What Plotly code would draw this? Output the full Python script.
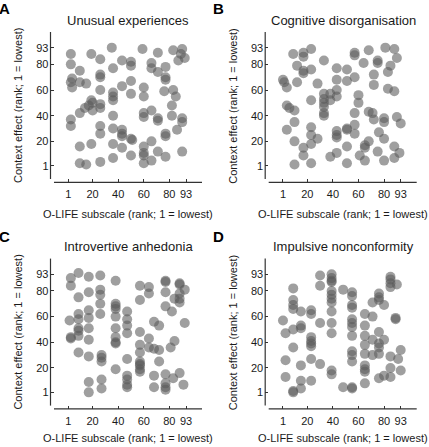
import plotly.graph_objects as go

W, H = 429, 447

tick_vals = [1, 20, 40, 60, 80, 93]
tick_text = ["1", "20", "40", "60", "80", "93"]

panel_titles = ["Unusual experiences", "Cognitive disorganisation",
                "Introvertive anhedonia", "Impulsive nonconformity"]
panel_letters = ["A", "B", "C", "D"]
x_title = "O-LIFE subscale (rank; 1 = lowest)"
y_title = "Context effect (rank; 1 = lowest)"

# Panel A: Unusual experiences
ue_x = [35, 59, 3, 19, 26, 43, 50, 50, 71, 83, 90, 89, 92, 87, 3, 10, 4, 3, 4, 10, 15, 26, 26, 36,
        26, 36, 36, 36, 43, 50, 50, 60, 60, 66, 66, 71, 77, 77, 77, 76, 83, 85, 82, 82, 19, 17, 14,
        10, 20, 20, 26, 26, 3, 3, 26, 26, 36, 36, 43, 43, 43, 43, 50, 51, 50, 36, 36, 26, 19, 10,
        10, 15, 60, 60, 66, 71, 71, 77, 77, 90, 90, 86, 90, 60, 60, 60, 60, 66, 66, 71, 77]
ue_y = [93, 92, 88, 88, 84, 83, 82, 79, 89, 91, 92, 88, 85, 83, 80, 75, 69, 66, 62, 66, 65, 72, 70, 77,
        60, 58, 55, 52, 63, 67, 57, 62, 55, 81, 77, 74, 78, 70, 68, 59, 60, 55, 48, 40, 52, 48, 46,
        42, 50, 44, 49, 46, 37, 32, 32, 26, 40, 30, 29, 26, 24, 15, 22, 21, 9, 18, 7, 4, 18, 16,
        3, 2, 42, 39, 44, 38, 36, 26, 24, 38, 35, 29, 12, 16, 11, 9, 3, 20, 5, 12, 8]

# Panel B: Cognitive disorganisation
cd_x = [9, 17, 17, 23, 12, 17, 17, 23, 12, 1, 2, 4, 28, 23, 33, 43, 43, 43, 43, 51, 51, 57, 57, 57,
        68, 64, 75, 75, 81, 88, 90, 85, 83, 72, 72, 83, 88, 60, 60, 57, 57, 33, 33, 33, 33, 33, 33,
        38, 38, 4, 6, 10, 10, 4, 10, 23, 23, 28, 23, 17, 17, 10, 23, 38, 43, 43, 43, 43, 51, 51, 51,
        51, 57, 61, 65, 65, 65, 68, 68, 71, 72, 80, 80, 76, 80, 88, 92, 88, 80, 75, 90, 93]
cd_y = [88, 89, 86, 92, 79, 75, 73, 76, 66, 68, 66, 62, 65, 52, 83, 77, 68, 60, 55, 76, 67, 70, 89, 87,
        91, 81, 83, 81, 93, 92, 85, 79, 74, 72, 64, 61, 59, 56, 50, 42, 33, 57, 53, 50, 47, 42, 40,
        57, 52, 48, 46, 44, 35, 29, 20, 31, 25, 22, 18, 15, 9, 2, 3, 8, 11, 28, 25, 23, 30, 29, 16,
        3, 26, 9, 5, 17, 15, 20, 43, 42, 37, 38, 35, 27, 22, 16, 11, 7, 5, 12, 39, 34]

# Panel C: Introvertive anhedonia
ia_x = [3, 3, 9, 17, 26, 38, 9, 17, 26, 26, 26, 26, 17, 17, 17, 17, 9, 9, 9, 9, 9, 2, 3, 3, 9, 17,
        27, 27, 27, 17, 17, 27, 27, 38, 38, 38, 38, 38, 38, 38, 38, 38, 47, 47, 47, 47, 47, 47, 47,
        47, 47, 57, 57, 57, 57, 57, 57, 57, 57, 57, 57, 64, 64, 64, 64, 68, 68, 72, 72, 72, 68, 68,
        77, 77, 77, 77, 82, 84, 88, 88, 88, 88, 88, 92, 92, 84, 81, 77, 77, 77, 77, 83, 88, 91]
ia_y = [90, 84, 94, 91, 92, 88, 75, 79, 81, 77, 70, 62, 65, 59, 51, 42, 62, 58, 51, 49, 45, 57, 44, 43,
        32, 29, 30, 28, 25, 9, 1, 11, 4, 70, 68, 66, 60, 51, 44, 40, 39, 19, 64, 58, 53, 47, 27, 14,
        11, 7, 5, 84, 73, 48, 38, 32, 25, 23, 22, 19, 17, 83, 78, 43, 36, 35, 56, 53, 34, 25, 14, 5,
        88, 87, 79, 68, 64, 74, 74, 86, 85, 78, 71, 81, 55, 41, 36, 15, 8, 5, 3, 12, 16, 7]

# Panel D: Impulsive nonconformity
in_x = [1, 3, 3, 3, 9, 9, 9, 9, 9, 9, 9, 9, 15, 15, 15, 15, 15, 15, 23, 23, 23, 23, 23, 23, 23, 23,
        30, 30, 30, 30, 39, 39, 39, 39, 39, 39, 39, 39, 39, 39, 39, 39, 39, 48, 48, 55, 55, 55, 55,
        55, 55, 55, 55, 55, 55, 55, 55, 55, 65, 65, 65, 65, 65, 65, 65, 65, 65, 71, 71, 71, 71, 76,
        76, 76, 76, 76, 76, 76, 76, 80, 80, 80, 85, 85, 85, 85, 85, 90, 89, 89, 85, 85, 91, 93, 93]
in_y = [57, 47, 26, 13, 82, 73, 69, 66, 50, 36, 2, 1, 64, 53, 51, 22, 10, 4, 65, 62, 44, 41, 39, 37,
        27, 10, 92, 84, 55, 23, 93, 90, 88, 87, 80, 77, 74, 71, 64, 55, 47, 18, 15, 81, 5, 79, 76,
        69, 67, 58, 55, 52, 45, 33, 30, 25, 5, 4, 62, 53, 45, 38, 31, 22, 19, 17, 8, 60, 42, 30, 71,
        78, 75, 73, 48, 39, 36, 31, 12, 69, 42, 14, 13, 91, 89, 86, 83, 85, 59, 58, 29, 20, 27, 34, 18]

xs = [ue_x, cd_x, ia_x, in_x]
ys = [ue_y, cd_y, ia_y, in_y]

# layout geometry (pixels)
x_off = [0, 214.7, 0, 214.7]
y_off = [0, 0, 226.6, 226.6]
plot_l, plot_r, plot_t, plot_b = 50.5, 202.0, 32.0, 182.3
x_range = [-12.9, 105.5]
y_range = [-11.9, 105.2]

FONT = "Liberation Sans, Arial, sans-serif"
TXT = "#1a1a1a"
LINE = "#333333"

fig = go.Figure()
annotations = []
shapes = []
layout_axes = {}
for i in range(4):
    sfx = "" if i == 0 else str(i + 1)
    fig.add_trace(go.Scatter(
        x=xs[i], y=ys[i], mode="markers",
        marker=dict(size=10, color="rgba(90,90,90,0.58)", line=dict(width=0)),
        xaxis="x" + sfx, yaxis="y" + sfx, showlegend=False, hoverinfo="x+y"))
    l = (plot_l + x_off[i]) / W
    r = (plot_r + x_off[i]) / W
    t = 1 - (plot_t + y_off[i]) / H
    b = 1 - (plot_b + y_off[i]) / H
    common = dict(tickvals=tick_vals, ticktext=tick_text, ticks="inside", ticklen=3,
                  tickwidth=1.2, tickcolor=LINE, showgrid=False, zeroline=False, showline=False,
                  tickfont=dict(family=FONT, size=11, color=TXT), fixedrange=True)
    layout_axes["xaxis" + sfx] = dict(domain=[l, r], range=x_range, anchor="y" + sfx,
                                      ticklabelstandoff=4, **common)
    layout_axes["yaxis" + sfx] = dict(domain=[b, t], range=y_range, anchor="x" + sfx,
                                      ticklabelstandoff=1, **common)
    xd = "x" + sfx + " domain"
    yd = "y" + sfx + " domain"
    shapes.append(dict(type="line", xref=xd, yref=yd, x0=0, x1=0, y0=0.022, y1=1,
                       line=dict(color=LINE, width=1.2)))
    shapes.append(dict(type="line", xref=xd, yref=yd, x0=0.023, x1=1, y0=0, y1=0,
                       line=dict(color=LINE, width=1.2)))
    # panel title
    annotations.append(dict(text=panel_titles[i], x=(128.3 + x_off[i]) / W,
                            y=1 - (20 + y_off[i]) / H, xref="paper", yref="paper",
                            showarrow=False, xanchor="center", yanchor="middle",
                            font=dict(family=FONT, size=13, color=TXT)))
    # panel letter
    annotations.append(dict(text="<b>" + panel_letters[i] + "</b>", x=(4.2 + x_off[i]) / W,
                            y=1 - (9 + y_off[i] + (0.5 if i > 1 else 0)) / H, xref="paper", yref="paper",
                            showarrow=False, xanchor="center", yanchor="middle",
                            font=dict(family=FONT, size=15, color="#000")))
    # y-axis title
    annotations.append(dict(text=y_title, x=(18 + x_off[i]) / W,
                            y=1 - (106 + y_off[i]) / H, xref="paper", yref="paper",
                            showarrow=False, xanchor="center", yanchor="middle", textangle=-90,
                            font=dict(family=FONT, size=11, color=TXT)))
    # x-axis title
    annotations.append(dict(text=x_title, x=(128.3 + x_off[i]) / W,
                            y=1 - (214 + y_off[i] * 0.99) / H, xref="paper", yref="paper",
                            showarrow=False, xanchor="center", yanchor="middle",
                            font=dict(family=FONT, size=11, color=TXT)))

fig.update_layout(width=W, height=H, margin=dict(l=0, r=0, t=0, b=0),
                  paper_bgcolor="white", plot_bgcolor="white",
                  annotations=annotations, shapes=shapes, **layout_axes)
fig.write_html("out.html", config={"displayModeBar": False})
